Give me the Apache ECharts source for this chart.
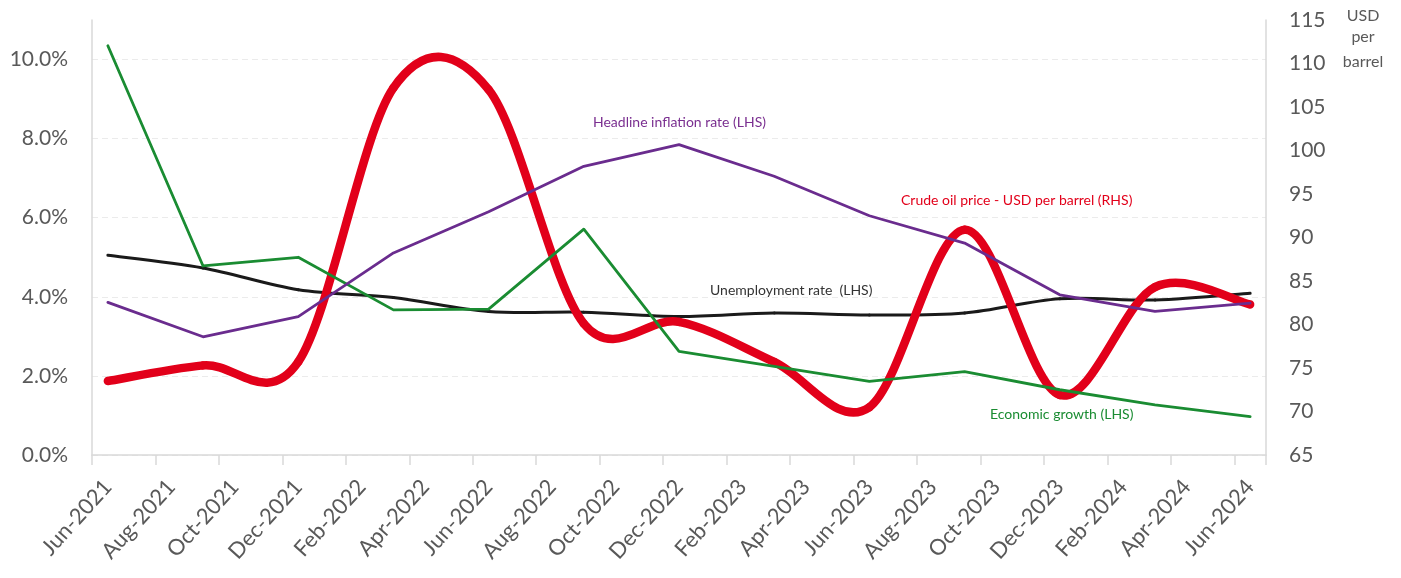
<!DOCTYPE html>
<html>
<head>
<meta charset="utf-8">
<script src="https://cdn.jsdelivr.net/npm/echarts@6/dist/echarts.min.js"></script>
<style>
  html, body { margin: 0; padding: 0; background: #ffffff; }
  #chart { width: 1401px; height: 578px; }
</style>
</head>
<body>
<div id="chart"></div>
<script>
// ---- Data ----
const months = [
  'Jun-2021','Jul-2021','Aug-2021','Sep-2021','Oct-2021','Nov-2021','Dec-2021',
  'Jan-2022','Feb-2022','Mar-2022','Apr-2022','May-2022','Jun-2022','Jul-2022',
  'Aug-2022','Sep-2022','Oct-2022','Nov-2022','Dec-2022','Jan-2023','Feb-2023',
  'Mar-2023','Apr-2023','May-2023','Jun-2023','Jul-2023','Aug-2023','Sep-2023',
  'Oct-2023','Nov-2023','Dec-2023','Jan-2024','Feb-2024','Mar-2024','Apr-2024',
  'May-2024','Jun-2024'
];
const quarters = [
  'Jun-2021','Sep-2021','Dec-2021','Mar-2022','Jun-2022','Sep-2022','Dec-2022',
  'Mar-2023','Jun-2023','Sep-2023','Dec-2023','Mar-2024','Jun-2024'
];
const economicGrowth    = [10.35, 4.78, 5.00, 3.67, 3.69, 5.71, 2.62, 2.24, 1.86, 2.11, 1.65, 1.27, 0.97];
const headlineInflation = [3.86, 2.99, 3.50, 5.11, 6.15, 7.30, 7.85, 7.05, 6.05, 5.36, 4.05, 3.63, 3.84];
const unemploymentRate  = [5.05, 4.73, 4.18, 3.98, 3.63, 3.61, 3.50, 3.59, 3.54, 3.59, 3.95, 3.92, 4.09];
const crudeOilPrice     = [73.5, 75.3, 75.7, 107.2, 107.0, 80.1, 80.3, 75.7, 70.5, 90.9, 71.9, 84.3, 82.3];
const leftTicks  = { min: 0, max: 11, interval: 2 };
const rightTicks = { min: 65, max: 115, interval: 5 };

// ---- Styles ----
const C_GREEN = '#1a8c32';
const C_PURPLE = '#6a2c8e';
const C_BLACK = '#1a1a1a';
const C_RED = '#e2001a';
const C_AXIS = '#d9d9d9';
const C_TEXT = '#595959';
const FONT = 'Lato, "Open Sans", sans-serif';

const quarterPairs = vals => quarters.map((q, k) => [months.indexOf(q), vals[k]]);

// Smoothed line (Catmull-Rom spline, like a spreadsheet's "smoothed line"),
// drawn from the data through the chart's own axes (api.coord).
function splineSeries(name, vals, color, width, yAxisIndex) {
  const data = quarterPairs(vals);
  return {
    name, type: 'custom', yAxisIndex,
    data,
    encode: { x: 0, y: 1 },
    renderItem: (params, api) => {
      if (params.dataIndex !== 0) return null;
      const pts = data.map(d => api.coord(d));
      const n = pts.length;
      const children = [];
      for (let i = 0; i < n - 1; i++) {
        const p0 = pts[i], p1 = pts[i + 1];
        const pm = pts[i - 1] || p0, p2 = pts[i + 2] || p1;
        children.push({
          type: 'bezierCurve',
          shape: {
            x1: p0[0], y1: p0[1], x2: p1[0], y2: p1[1],
            cpx1: p0[0] + (p1[0] - pm[0]) / 6, cpy1: p0[1] + (p1[1] - pm[1]) / 6,
            cpx2: p1[0] - (p2[0] - p0[0]) / 6, cpy2: p1[1] - (p2[1] - p0[1]) / 6
          },
          style: { stroke: color, lineWidth: width, fill: 'none', lineCap: 'round', lineJoin: 'round' }
        });
      }
      return { type: 'group', children };
    }
  };
}

const chart = echarts.init(document.getElementById('chart'), null, { renderer: 'canvas' });
chart.setOption({
  animation: false,
  backgroundColor: '#ffffff',
  grid: { left: 92, right: 135, top: 20, bottom: 123, containLabel: false },
  xAxis: {
    type: 'category',
    data: months,
    boundaryGap: true,
    axisLine: { show: true, lineStyle: { color: C_AXIS, width: 1.5 } },
    axisTick: { show: true, interval: 1, length: 10, lineStyle: { color: C_AXIS, width: 1.5 } },
    axisLabel: {
      interval: 1, rotate: 48, margin: 28,
      color: C_TEXT, fontFamily: FONT, fontSize: 22
    },
    splitLine: { show: false }
  },
  yAxis: [
    {
      type: 'value',
      min: leftTicks.min, max: leftTicks.max, interval: leftTicks.interval,
      axisLine: { show: true, lineStyle: { color: C_AXIS, width: 1.5 } },
      axisTick: { show: false },
      axisLabel: {
        showMaxLabel: false, margin: 24,
        color: C_TEXT, fontFamily: FONT, fontSize: 21,
        formatter: v => v.toFixed(1) + '%'
      },
      splitLine: { show: true, showMaxLine: false, lineStyle: { color: '#ebebeb', type: [6, 4], width: 1 } }
    },
    {
      type: 'value', position: 'right',
      min: rightTicks.min, max: rightTicks.max, interval: rightTicks.interval,
      axisLine: { show: true, lineStyle: { color: C_AXIS, width: 1.5 } },
      axisTick: { show: false },
      axisLabel: { margin: 23, color: C_TEXT, fontFamily: FONT, fontSize: 21 },
      splitLine: { show: false }
    }
  ],
  series: [
    {
      name: 'Economic growth (LHS)', type: 'line', yAxisIndex: 0,
      data: quarterPairs(economicGrowth), showSymbol: false, symbol: 'none',
      lineStyle: { color: C_GREEN, width: 2.8, join: 'round', cap: 'round' }
    },
    {
      name: 'Headline inflation rate (LHS)', type: 'line', yAxisIndex: 0,
      data: quarterPairs(headlineInflation), showSymbol: false, symbol: 'none',
      lineStyle: { color: C_PURPLE, width: 2.8, join: 'round', cap: 'round' }
    },
    splineSeries('Unemployment rate (LHS)', unemploymentRate, C_BLACK, 3, 0),
    splineSeries('Crude oil price - USD per barrel (RHS)', crudeOilPrice, C_RED, 8.5, 1)
  ],
  graphic: [
    { type: 'text', left: 593, top: 115, style: { text: 'Headline inflation rate (LHS)', fill: '#7a2f90', font: '14px ' + FONT } },
    { type: 'text', left: 710, top: 283, style: { text: 'Unemployment rate  (LHS)', fill: '#333333', font: '14px ' + FONT } },
    { type: 'text', left: 901, top: 193, style: { text: 'Crude oil price - USD per barrel (RHS)', fill: C_RED, font: '14px ' + FONT } },
    { type: 'text', left: 990, top: 407, style: { text: 'Economic growth (LHS)', fill: C_GREEN, font: '14px ' + FONT } },
    { type: 'text', x: 1363, y: 8, style: { text: 'USD', fill: C_TEXT, font: '16px ' + FONT, align: 'center' } },
    { type: 'text', x: 1363, y: 29, style: { text: 'per', fill: C_TEXT, font: '16px ' + FONT, align: 'center' } },
    { type: 'text', x: 1363, y: 54, style: { text: 'barrel', fill: C_TEXT, font: '16px ' + FONT, align: 'center' } }
  ]
});
</script>
</body>
</html>
